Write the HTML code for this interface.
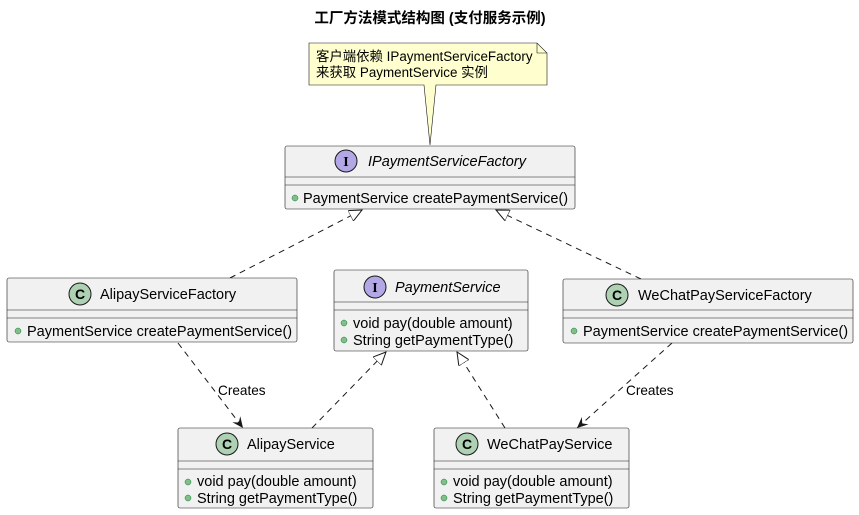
<!DOCTYPE html>
<html><head><meta charset="utf-8"><style>
html,body{margin:0;padding:0;background:#fff;}
svg{display:block;font-family:"Liberation Sans","Noto Sans CJK SC",sans-serif;}
</style></head><body>
<svg width="859" height="515" viewBox="0 0 859 515" xmlns="http://www.w3.org/2000/svg">
<defs>
<marker id="tri" markerWidth="14" markerHeight="12" refX="13" refY="6" orient="auto" markerUnits="userSpaceOnUse">
<path d="M0,0 L13,6 L0,12 Z" fill="#fff" stroke="#181818" stroke-width="1"/></marker>
<marker id="arr" markerWidth="12" markerHeight="12" refX="11" refY="5" orient="auto" markerUnits="userSpaceOnUse">
<path d="M0,0 L11,5 L0,10 L4,5 Z" fill="#181818"/></marker>
</defs>
<text x="430" y="23" text-anchor="middle" font-size="14.5" font-weight="bold" fill="#000">工厂方法模式结构图 (支付服务示例)</text>

<path d="M309,43 L537,43 L547,53 L547,85 L436,85 L430,145 L424,85 L309,85 Z" fill="#fefece" stroke="#181818" stroke-width="0.6"/>
<path d="M537,43 L537,53 L547,53" fill="none" stroke="#181818" stroke-width="0.6"/>
<text x="316" y="61" font-size="13.4" fill="#000">客户端依赖 IPaymentServiceFactory</text>
<text x="316" y="77" font-size="13.4" fill="#000">来获取 PaymentService 实例</text>

<g stroke="#181818" stroke-width="1" fill="none" stroke-dasharray="6,5">
<line x1="230" y1="278" x2="362" y2="210" marker-end="url(#tri)"/>
<line x1="641" y1="279" x2="496" y2="210" marker-end="url(#tri)"/>
<line x1="178" y1="343" x2="243" y2="428" marker-end="url(#arr)"/>
<line x1="672" y1="343" x2="577" y2="428" marker-end="url(#arr)"/>
<line x1="312" y1="428" x2="386" y2="352" marker-end="url(#tri)"/>
<line x1="505" y1="428" x2="457" y2="352" marker-end="url(#tri)"/>
</g>
<text x="218" y="395" font-size="13.6" fill="#000">Creates</text>
<text x="626" y="395" font-size="13.6" fill="#000">Creates</text>

<g font-size="14.5" fill="#000">
<rect x="285" y="146" width="290" height="63" rx="2" fill="#f1f1f1" stroke="#181818" stroke-width="0.6"/>
<line x1="285" y1="177" x2="575" y2="177" stroke="#181818" stroke-width="0.6"/>
<line x1="285" y1="185" x2="575" y2="185" stroke="#181818" stroke-width="0.6"/>
<circle cx="346" cy="161" r="11" fill="#b4a7e5" stroke="#181818"/>
<text x="346" y="166" text-anchor="middle" font-size="14" font-weight="bold" font-family="Liberation Serif,serif">I</text>
<text x="368" y="166" font-style="italic">IPaymentServiceFactory</text>
<circle cx="295" cy="198" r="3" fill="#84be84" stroke="#038048" stroke-width="0.5"/>
<text x="303" y="203">PaymentService createPaymentService()</text>

<rect x="7" y="278" width="290" height="64" rx="2" fill="#f1f1f1" stroke="#181818" stroke-width="0.6"/>
<line x1="7" y1="310" x2="297" y2="310" stroke="#181818" stroke-width="0.6"/>
<line x1="7" y1="318" x2="297" y2="318" stroke="#181818" stroke-width="0.6"/>
<circle cx="80" cy="294" r="11" fill="#add1b2" stroke="#181818"/>
<text x="80" y="299" text-anchor="middle" font-size="14" font-weight="bold">C</text>
<text x="100" y="299">AlipayServiceFactory</text>
<circle cx="18" cy="331" r="3" fill="#84be84" stroke="#038048" stroke-width="0.5"/>
<text x="27" y="336">PaymentService createPaymentService()</text>

<rect x="334" y="270" width="194" height="81" rx="2" fill="#f1f1f1" stroke="#181818" stroke-width="0.6"/>
<line x1="334" y1="302" x2="528" y2="302" stroke="#181818" stroke-width="0.6"/>
<line x1="334" y1="310" x2="528" y2="310" stroke="#181818" stroke-width="0.6"/>
<circle cx="375" cy="287" r="11" fill="#b4a7e5" stroke="#181818"/>
<text x="375" y="292" text-anchor="middle" font-size="14" font-weight="bold" font-family="Liberation Serif,serif">I</text>
<text x="395" y="292" font-style="italic">PaymentService</text>
<circle cx="344" cy="323" r="3" fill="#84be84" stroke="#038048" stroke-width="0.5"/>
<text x="353" y="328">void pay(double amount)</text>
<circle cx="344" cy="340" r="3" fill="#84be84" stroke="#038048" stroke-width="0.5"/>
<text x="353" y="345">String getPaymentType()</text>

<rect x="563" y="279" width="290" height="64" rx="2" fill="#f1f1f1" stroke="#181818" stroke-width="0.6"/>
<line x1="563" y1="310" x2="853" y2="310" stroke="#181818" stroke-width="0.6"/>
<line x1="563" y1="318" x2="853" y2="318" stroke="#181818" stroke-width="0.6"/>
<circle cx="617" cy="295" r="11" fill="#add1b2" stroke="#181818"/>
<text x="617" y="300" text-anchor="middle" font-size="14" font-weight="bold">C</text>
<text x="638" y="300">WeChatPayServiceFactory</text>
<circle cx="574" cy="331" r="3" fill="#84be84" stroke="#038048" stroke-width="0.5"/>
<text x="583" y="336">PaymentService createPaymentService()</text>

<rect x="178" y="428" width="195" height="80" rx="2" fill="#f1f1f1" stroke="#181818" stroke-width="0.6"/>
<line x1="178" y1="461" x2="373" y2="461" stroke="#181818" stroke-width="0.6"/>
<line x1="178" y1="469" x2="373" y2="469" stroke="#181818" stroke-width="0.6"/>
<circle cx="227" cy="444" r="11" fill="#add1b2" stroke="#181818"/>
<text x="227" y="449" text-anchor="middle" font-size="14" font-weight="bold">C</text>
<text x="247" y="449">AlipayService</text>
<circle cx="188" cy="482" r="3" fill="#84be84" stroke="#038048" stroke-width="0.5"/>
<text x="197" y="486">void pay(double amount)</text>
<circle cx="188" cy="498" r="3" fill="#84be84" stroke="#038048" stroke-width="0.5"/>
<text x="197" y="503">String getPaymentType()</text>

<rect x="434" y="428" width="195" height="80" rx="2" fill="#f1f1f1" stroke="#181818" stroke-width="0.6"/>
<line x1="434" y1="461" x2="629" y2="461" stroke="#181818" stroke-width="0.6"/>
<line x1="434" y1="469" x2="629" y2="469" stroke="#181818" stroke-width="0.6"/>
<circle cx="467" cy="444" r="11" fill="#add1b2" stroke="#181818"/>
<text x="467" y="449" text-anchor="middle" font-size="14" font-weight="bold">C</text>
<text x="487" y="449">WeChatPayService</text>
<circle cx="444" cy="482" r="3" fill="#84be84" stroke="#038048" stroke-width="0.5"/>
<text x="453" y="486">void pay(double amount)</text>
<circle cx="444" cy="498" r="3" fill="#84be84" stroke="#038048" stroke-width="0.5"/>
<text x="453" y="503">String getPaymentType()</text>
</g>
</svg>
</body></html>
